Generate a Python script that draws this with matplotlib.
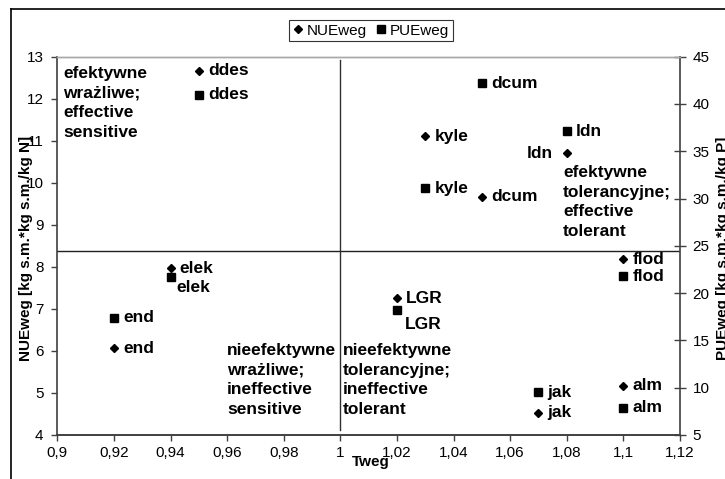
import matplotlib
matplotlib.use('Agg')
import matplotlib.pyplot as plt
from matplotlib.lines import Line2D

plt.rcParams['font.family'] = ['Liberation Sans', 'DejaVu Sans']

# ---------------- data ----------------
genotypes = ['ddes', 'kyle', 'dcum', 'ldn', 'elek', 'end', 'LGR', 'flod', 'alm', 'jak']
tweg = [0.95, 1.03, 1.05, 1.08, 0.94, 0.92, 1.02, 1.10, 1.10, 1.07]
nueweg = [12.66, 11.11, 9.67, 10.70, 7.97, 6.06, 7.25, 8.18, 5.17, 4.53]
pueweg = [41.0, 31.1, 42.2, 37.1, 21.7, 17.4, 18.2, 21.8, 7.9, 9.5]

tweg_ref = 1.0
nue_ref = 8.38

x_ticks = [0.90, 0.92, 0.94, 0.96, 0.98, 1.00, 1.02, 1.04, 1.06, 1.08, 1.10, 1.12]
x_ticklabels = ['0,9', '0,92', '0,94', '0,96', '0,98', '1', '1,02', '1,04', '1,06', '1,08', '1,1', '1,12']
nue_ticks = [4, 5, 6, 7, 8, 9, 10, 11, 12, 13]
pue_ticks = [5, 10, 15, 20, 25, 30, 35, 40, 45]

quadrant_texts = [
    'efektywne\nwrażliwe;\neffective\nsensitive',
    'efektywne\ntolerancyjne;\neffective\ntolerant',
    'nieefektywne\nwrażliwe;\nineffective\nsensitive',
    'nieefektywne\ntolerancyjne;\nineffective\ntolerant',
]

# ---------------- layout helpers ----------------
W, H = 725, 479
fig = plt.figure(figsize=(W / 100, H / 100), dpi=100)
ax_l, ax_r, ax_t, ax_b = 57.3, 680.0, 56.7, 435.0
ax = fig.add_axes([ax_l / W, 1 - ax_b / H, (ax_r - ax_l) / W, (ax_b - ax_t) / H])
ax2 = ax.twinx()

def axfrac(px, py):
    return ((px - ax_l) / (ax_r - ax_l), (ax_b - py) / (ax_b - ax_t))

axis_col = '#404040'
ax.set_xlim(0.9, 1.12)
ax.set_ylim(4, 13)
ax2.set_ylim(5, 45)

for a in (ax, ax2):
    for s in ('left', 'bottom', 'right'):
        a.spines[s].set_color(axis_col)
        a.spines[s].set_linewidth(1.2)
    a.spines['top'].set_color('#a8a8a8')
    a.spines['top'].set_linewidth(1.0)
ax.spines['right'].set_visible(False)
ax2.spines['left'].set_visible(False)

ax.set_xticks(x_ticks)
ax.set_xticklabels(x_ticklabels)
ax.set_yticks(nue_ticks)
ax2.set_yticks(pue_ticks)
ax.tick_params(axis='both', direction='out', length=4, width=1, color=axis_col,
               labelsize=11)
ax.tick_params(axis='x', pad=4)
ax.tick_params(axis='y', pad=6)
ax2.tick_params(axis='y', direction='inout', length=8, width=1, color=axis_col,
                labelsize=11, pad=5)

# reference lines
ax.axhline(nue_ref, color='#202020', lw=1.0, zorder=1)
ax.axvline(tweg_ref, ymin=0.013, ymax=0.99, color='#303030', lw=1.0, zorder=1)

# points
ax.plot(tweg, nueweg, linestyle='none', marker='D', markersize=4.0, color='black', zorder=3)
ax2.plot(tweg, pueweg, linestyle='none', marker='s', markersize=6.0, color='black', zorder=3)

px2pt = 0.72
nue_offsets = {'ldn': (-14, 0, 'right')}
pue_offsets = {'elek': (6, -10, 'left'), 'LGR': (8, -14, 'left')}
lab_kw = dict(fontsize=12.5, fontweight='bold', va='center', textcoords='offset points')
for g, x, y in zip(genotypes, tweg, nueweg):
    dx, dy, ha = nue_offsets.get(g, (9, 0, 'left'))
    ax.annotate(g, (x, y), xytext=(dx * px2pt, dy * px2pt), ha=ha, **lab_kw)
for g, x, y in zip(genotypes, tweg, pueweg):
    dx, dy, ha = pue_offsets.get(g, (9, 0, 'left'))
    ax2.annotate(g, (x, y), xytext=(dx * px2pt, dy * px2pt), ha=ha, **lab_kw)

# quadrant descriptions (pixel anchor of left edge / block center)
quad_px = [(63, 103), (563, 202), (227, 380), (343, 380)]
for txt, (px, py) in zip(quadrant_texts, quad_px):
    fx, fy = axfrac(px, py)
    ax.text(fx, fy, txt, transform=ax.transAxes, fontsize=12.5, fontweight='bold',
            ha='left', va='center', linespacing=1.4)

# axis titles
fig.text(26 / W, 1 - 248 / H, 'NUEweg [kg s.m.*kg s.m./kg N]', rotation=90,
         fontsize=11, fontweight='bold', ha='center', va='center')
fig.text(723 / W, 1 - 248 / H, 'PUEweg [kg s.m.*kg s.m./kg P]', rotation=90,
         fontsize=11, fontweight='bold', ha='center', va='center')
fig.text(371 / W, 1 - 462 / H, 'Tweg', fontsize=11, fontweight='bold',
         ha='center', va='center')

# legend
handles = [Line2D([], [], linestyle='none', marker='D', markersize=4.2, color='black'),
           Line2D([], [], linestyle='none', marker='s', markersize=6.0, color='black')]
leg = fig.legend(handles, ['NUEweg', 'PUEweg'], ncol=2, loc='center',
                 bbox_to_anchor=(371 / W, 1 - 30.5 / H), fontsize=11,
                 frameon=True, fancybox=False, edgecolor='black',
                 handlelength=0.6, handletextpad=0.3, columnspacing=0.6,
                 borderpad=0.25, borderaxespad=0)
leg.get_frame().set_linewidth(0.8)

# outer chart frame (cropped at right and bottom)
fig.add_artist(Line2D([11 / W, 11 / W], [1 - 9 / H, 0], transform=fig.transFigure,
                      color='black', lw=1.2))
fig.add_artist(Line2D([11 / W, 1], [1 - 9 / H, 1 - 9 / H], transform=fig.transFigure,
                      color='black', lw=1.2))

fig.savefig('out.png', dpi=100)
